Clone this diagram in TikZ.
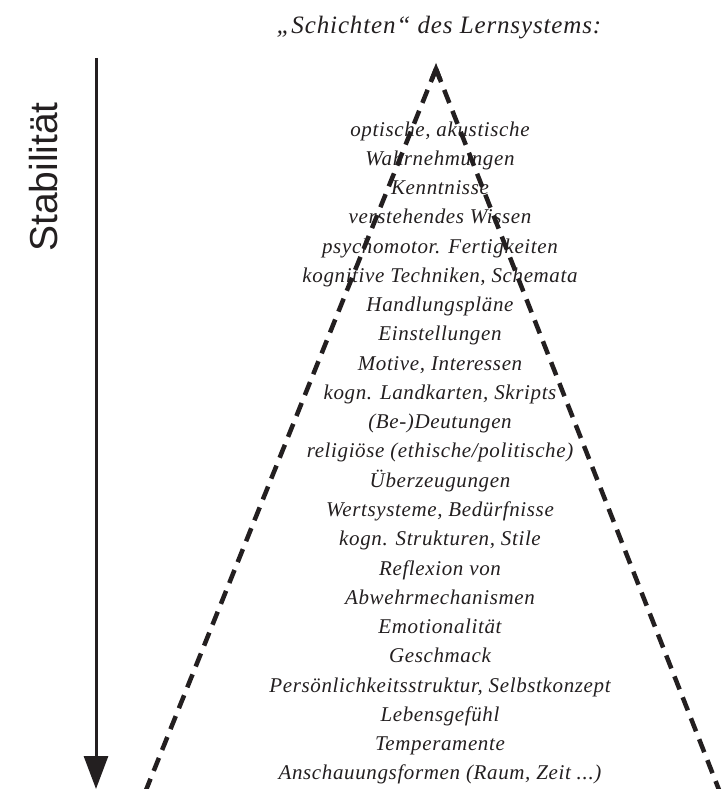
\documentclass[tikz,border=0pt]{standalone}
\usepackage{fontspec}
\setmainfont{Liberation Serif}
\newfontfamily\bodyfont[LetterSpace=3]{Liberation Serif}
\newfontfamily\titlefont[LetterSpace=3.5]{Liberation Serif}
\newfontfamily\stabfont{Liberation Sans}
\usetikzlibrary{arrows.meta,calc}
\definecolor{ink}{HTML}{231F20}
\newcommand\myzdots{...}
\begin{document}
\begin{tikzpicture}[x=1pt,y=-1pt,
  txt/.style={anchor=base, inner sep=0pt, text=ink, font=\bodyfont\itshape\fontsize{21}{21}\selectfont},
  ttl/.style={anchor=base, inner sep=0pt, text=ink, font=\titlefont\itshape\fontsize{25}{25}\selectfont},
  stabtxt/.style={anchor=base, inner sep=0pt, rotate=90, text=ink, font=\stabfont\fontsize{39}{39}\selectfont},
  dline/.style={draw=ink, line width=4.5pt, dash pattern=on 14pt off 8.5pt},
  tipline/.style={draw=ink, line width=4.5pt, miter limit=20},
  stabarrow/.style={draw=ink, line width=3pt, -{Triangle[length=33pt,width=24pt]}}]
\useasboundingbox (0,0) rectangle (721,789);
\clip (0,0) rectangle (721,789);
\fill[white] (0,0) rectangle (721,789);

\node[ttl] (title) at (439,34) {„Schichten“ des Lernsystems:};

\node[stabtxt] (stab) at (57,177) {Stabilität};
\coordinate (atop) at (96,58);
\coordinate (abot) at (96,789);
\draw[stabarrow] (atop) -- (abot);

\coordinate (apex) at (436,69);
\coordinate (bl) at (142,800);
\coordinate (br) at (723,800);
\draw[dline] (apex) -- (bl);
\draw[dline] (apex) -- (br);
\draw[tipline] ($(apex)!12pt!(bl)$) -- (apex) -- ($(apex)!12pt!(br)$);

\foreach \t [count=\i] in {
  {optische, akustische},
  {Wahrnehmungen},
  {Kenntnisse},
  {verstehendes Wissen},
  {psychomotor. Fertigkeiten},
  {kognitive Techniken, Schemata},
  {Handlungspläne},
  {Einstellungen},
  {Motive, Interessen},
  {kogn. Landkarten, Skripts},
  {(Be-)Deutungen},
  {religiöse (ethische/politische)},
  {Überzeugungen},
  {Wertsysteme, Bedürfnisse},
  {kogn. Strukturen, Stile},
  {Reflexion von},
  {Abwehrmechanismen},
  {Emotionalität},
  {Geschmack},
  {Persönlichkeitsstruktur, Selbstkonzept},
  {Lebensgefühl},
  {Temperamente},
  {Anschauungsformen (Raum, Zeit \myzdots)}}
  \node[txt] (l\i) at (440,{136+29.27*(\i-1)}) {\t};
\end{tikzpicture}
\end{document}
